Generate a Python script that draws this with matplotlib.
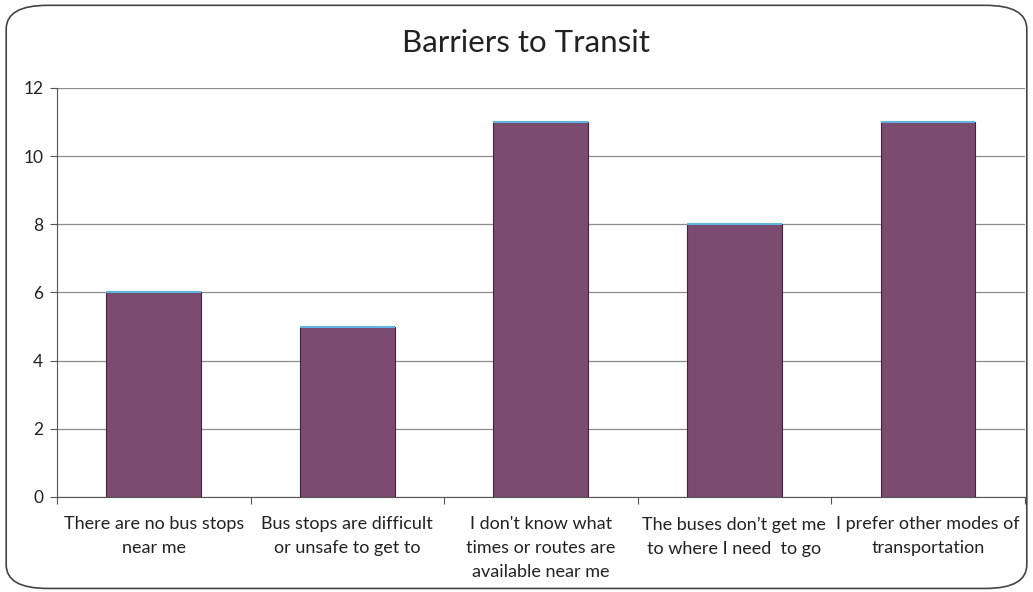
import matplotlib.pyplot as plt
from matplotlib.patches import FancyBboxPatch

# data
categories = ["There are no bus stops\nnear me",
              "Bus stops are difficult\nor unsafe to get to",
              "I don't know what\ntimes or routes are\navailable near me",
              "The buses don\u2019t get me\nto where I need  to go",
              "I prefer other modes of\ntransportation"]
counts = [6, 5, 11, 8, 11]
y_ticks = [0, 2, 4, 6, 8, 10, 12]

plt.rcParams['font.family'] = ['Lato', 'DejaVu Sans']

fig = plt.figure(figsize=(10.33, 5.92), dpi=100)
ax = fig.add_axes([0.0552, 0.1605, 0.9368, 0.691])

x = list(range(len(categories)))
ax.bar(x, counts, width=0.49, color="#7b4b70", edgecolor="#4a1f45", linewidth=0.8, zorder=3)
# light blue top edge like the original
ax.hlines(counts, [i - 0.245 for i in x], [i + 0.245 for i in x], color="#5fb4e0", linewidth=1.5, zorder=4)

ax.set_xlim(-0.5, len(categories) - 0.5)
ax.set_ylim(0, 12)
ax.set_yticks(y_ticks)
ax.yaxis.grid(True, color="#8c8c8c", linewidth=0.9, zorder=0)

ax.set_xticks([i + 0.5 for i in range(-1, len(categories))])
ax.set_xticklabels([])
ax.set_xticks(x, minor=True)
ax.set_xticklabels(categories, minor=True, fontsize=13, color="#222222", linespacing=1.6)
ax.tick_params(axis='x', which='minor', length=0, pad=14)
ax.tick_params(axis='x', which='major', length=5, color="#555555")
ax.tick_params(axis='y', length=5, labelsize=12.5, labelcolor="#222222", color="#555555", pad=5)

for s in ['top', 'right']:
    ax.spines[s].set_visible(False)
ax.spines['left'].set_color("#555555")
ax.spines['bottom'].set_color("#555555")

fig.text(0.509, 0.927, "Barriers to Transit", ha='center', va='center', fontsize=22.5, color="#222222")

border = FancyBboxPatch((0.006, 0.006), 0.988, 0.985, boxstyle="round,pad=0,rounding_size=0.04",
                        transform=fig.transFigure, fill=False, edgecolor="#444444", linewidth=1.2)
fig.patches.append(border)

fig.savefig("out.png", dpi=100)
